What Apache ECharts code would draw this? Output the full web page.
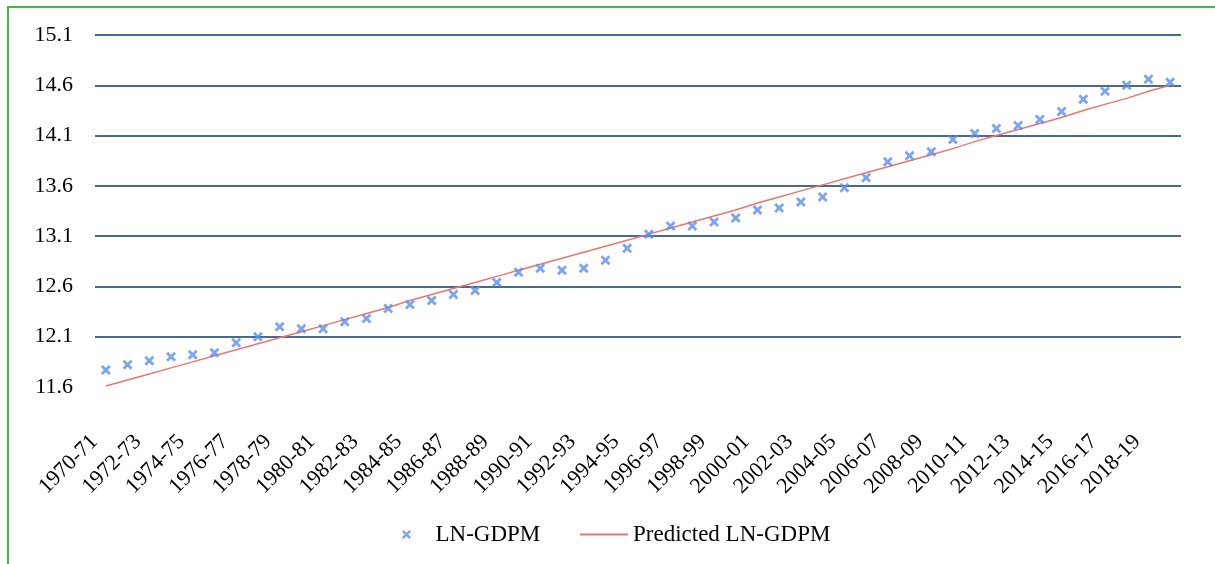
<!DOCTYPE html>
<html>
<head>
<meta charset="utf-8">
<script src="https://cdn.jsdelivr.net/npm/echarts@6/dist/echarts.min.js"></script>
<style>
  html, body { margin: 0; padding: 0; background: #fff; }
  #chart { width: 1215px; height: 564px; }
  #frame { position: absolute; left: 7px; top: 6px; width: 1400px; height: 800px;
           border: 2px solid #45b649; pointer-events: none; }
</style>
</head>
<body>
<div id="chart"></div>
<div id="frame"></div>
<script>
// fiscal years 1970-71 .. 2019-20
var years = [
  '1970-71','1971-72','1972-73','1973-74','1974-75','1975-76','1976-77','1977-78','1978-79','1979-80',
  '1980-81','1981-82','1982-83','1983-84','1984-85','1985-86','1986-87','1987-88','1988-89','1989-90',
  '1990-91','1991-92','1992-93','1993-94','1994-95','1995-96','1996-97','1997-98','1998-99','1999-00',
  '2000-01','2001-02','2002-03','2003-04','2004-05','2005-06','2006-07','2007-08','2008-09','2009-10',
  '2010-11','2011-12','2012-13','2013-14','2014-15','2015-16','2016-17','2017-18','2018-19','2019-20'
];

// observed ln(GDPM)
var lnGdpm = [
  11.77, 11.82, 11.86, 11.90, 11.92, 11.94, 12.04, 12.10, 12.20, 12.18,
  12.18, 12.25, 12.28, 12.38, 12.42, 12.46, 12.52, 12.56, 12.64, 12.74,
  12.78, 12.76, 12.78, 12.86, 12.98, 13.12, 13.20, 13.20, 13.24, 13.28,
  13.36, 13.38, 13.44, 13.49, 13.58, 13.68, 13.84, 13.90, 13.94, 14.06,
  14.12, 14.17, 14.20, 14.26, 14.34, 14.46, 14.54, 14.60, 14.66, 14.63
];

// fitted values
var predicted = [
  11.61, 11.67, 11.73, 11.79, 11.85, 11.91, 11.97, 12.03, 12.09, 12.15,
  12.21, 12.27, 12.33, 12.39, 12.46, 12.52, 12.58, 12.64, 12.70, 12.76,
  12.82, 12.88, 12.94, 13.00, 13.06, 13.12, 13.18, 13.24, 13.30, 13.36,
  13.43, 13.49, 13.55, 13.61, 13.67, 13.73, 13.79, 13.85, 13.91, 13.97,
  14.04, 14.10, 14.16, 14.22, 14.28, 14.35, 14.41, 14.47, 14.54, 14.60
];

var yMin = 11.6, yMax = 15.1, yStep = 0.5;

var font = '"Liberation Serif", "Times New Roman", serif';
var cross = 'path://M0,2 L2,0 L5,3 L8,0 L10,2 L7,5 L10,8 L8,10 L5,7 L2,10 L0,8 L3,5 Z';

var chart = echarts.init(document.getElementById('chart'));
var option = {
  backgroundColor: '#fff',
  animation: false,
  grid: { left: 95, right: 34, top: 35, bottom: 177 },
  legend: [
    {
      data: [{ name: 'LN-GDPM', icon: cross }],
      left: 397, top: 518,
      itemWidth: 20, itemHeight: 9,
      textStyle: { fontFamily: font, fontSize: 23, color: '#000', padding: [0, 0, 0, 14] }
    },
    {
      data: [{ name: 'Predicted LN-GDPM', icon: 'rect' }],
      left: 575, top: 518,
      itemWidth: 48, itemHeight: 2,
      textStyle: { fontFamily: font, fontSize: 23, color: '#000' }
    }
  ],
  xAxis: {
    type: 'category',
    data: years,
    boundaryGap: true,
    axisLine: { show: false },
    axisTick: { show: false },
    axisLabel: {
      interval: 1,
      rotate: 45,
      margin: 40,
      padding: [0, 16, 0, 0],
      fontFamily: font,
      fontSize: 22,
      color: '#000'
    }
  },
  yAxis: {
    type: 'value',
    min: yMin,
    max: yMax,
    interval: yStep,
    axisLine: { show: false },
    axisTick: { show: false },
    axisLabel: {
      margin: 22,
      fontFamily: font,
      fontSize: 22,
      color: '#000',
      formatter: function (v) { return v.toFixed(1); }
    },
    splitLine: {
      show: true,
      showMinLine: false,
      lineStyle: { color: '#4a6a8a', width: 2 }
    }
  },
  series: [
    {
      name: 'LN-GDPM',
      type: 'scatter',
      data: lnGdpm,
      symbol: cross,
      symbolSize: 10,
      itemStyle: { color: '#5b8def' },
      z: 3
    },
    {
      name: 'Predicted LN-GDPM',
      type: 'line',
      data: predicted,
      symbol: 'none',
      lineStyle: { color: '#ec7570', width: 1.5 },
      itemStyle: { color: '#ec7570' },
      z: 2
    }
  ]
};
chart.setOption(option);
</script>
</body>
</html>
